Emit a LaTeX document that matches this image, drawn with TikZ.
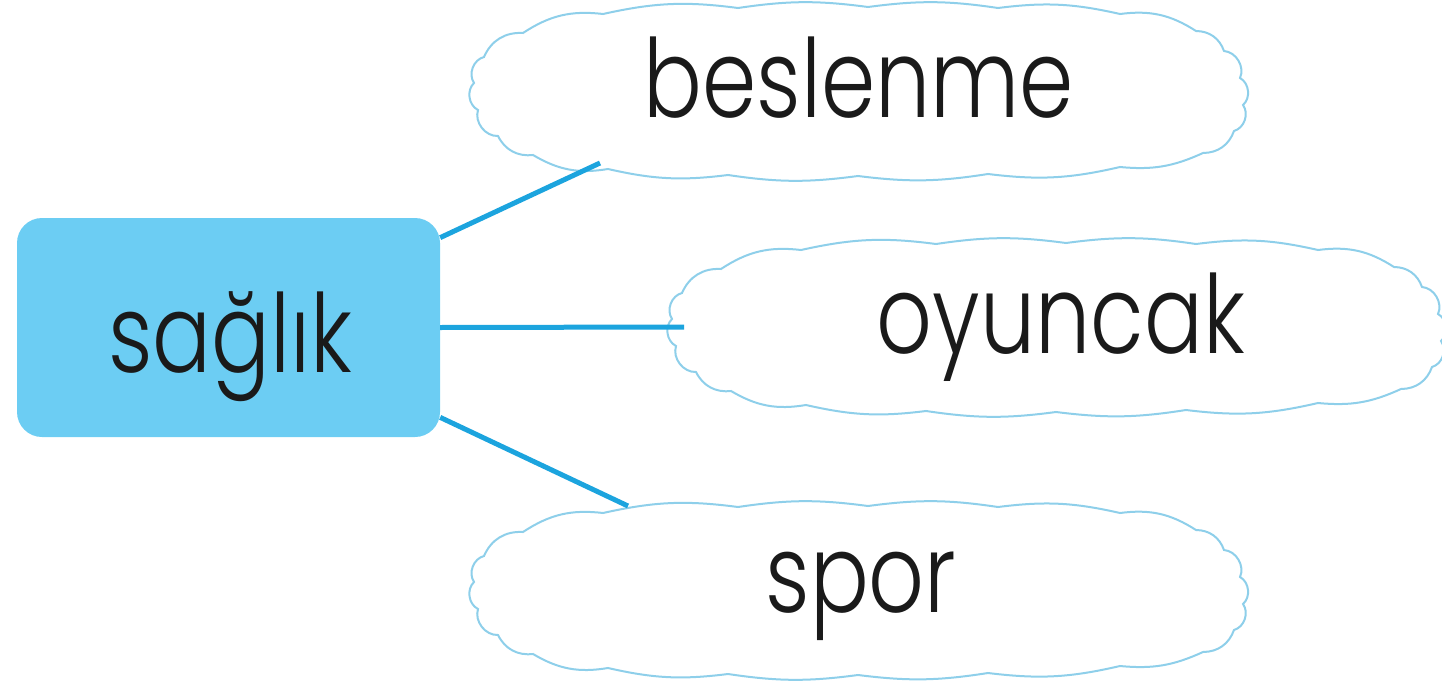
\documentclass[tikz,border=0pt]{standalone}
\usepackage{fontspec}
\setmainfont{Poppins}[UprightFont=* Light]
\usetikzlibrary{calc}
\definecolor{boxblue}{HTML}{6CCDF3}
\definecolor{linkblue}{HTML}{1CA4DE}
\definecolor{cloudline}{HTML}{8ECFEA}
\definecolor{ink}{HTML}{1A1A1A}
\newcommand\sqz[1]{\scalebox{0.8}[1]{#1}}
\newcommand\cloudoutline[1]{%
  \draw[cloudstroke, shift={(#1)}]
    (-335,-58) to[bend left=20] (-255,-77) to[bend left=10] (-120,-83)
    to[bend left=8] (10,-84) to[bend left=8] (140,-83) to[bend left=10] (262,-77)
    to[bend left=20] (338,-60) to[bend left=35] (366,-40) to[bend left=55] (382,-13)
    to[bend left=55] (385,14) to[bend left=55] (376,40) to[bend left=35] (345,62)
    to[bend left=15] (262,76) to[bend left=10] (130,83) to[bend left=8] (0,85)
    to[bend left=8] (-130,84) to[bend left=10] (-250,78) to[bend left=20] (-325,64)
    to[bend left=35] (-360,45) to[bend left=55] (-380,19) to[bend left=55] (-384,-8)
    to[bend left=55] (-374,-34) to[bend left=35] (-335,-58) -- cycle;}
\tikzset{
  mainbox/.style={fill=boxblue, rounded corners=25pt, minimum width=423pt, minimum height=219pt, inner sep=0pt},
  cloudbox/.style={minimum width=770pt, minimum height=176pt, inner sep=0pt},
  cloudstroke/.style={draw=cloudline, line width=2pt, fill=white},
  word/.style={anchor=base, inner sep=0pt, text=ink, font=\fontsize{109}{120}\selectfont},
  conn/.style={draw=linkblue, line width=5pt}
}
\begin{document}
\begin{tikzpicture}[x=1pt,y=-1pt]
\useasboundingbox (0,0) rectangle (1442,693);
\node[mainbox] (s) at (228.5,327.5) {};
\node[word] (ts) at (230,372) {\sqz{sağlık}};
\node[cloudbox] (c1) at (858,91) {};
\node[cloudbox] (c2) at (1056,327) {};
\node[cloudbox] (c3) at (858,590) {};
\cloudoutline{c1}
\cloudoutline{c2}
\cloudoutline{c3}
\node[word] (t1) at (859,117) {\sqz{beslenme}};
\node[word] (t2) at (1061,353) {\sqz{oyuncak}};
\node[word] (t3) at (861,612) {\sqz{spor}};
\draw[conn] (s.23) -- ($(c1.center)+(-258,72)$);
\draw[conn] (s.0) -- ($(c2.center)+(-372,0)$);
\draw[conn] (s.-23) -- ($(c3.center)+(-230,-84)$);
\end{tikzpicture}
\end{document}
